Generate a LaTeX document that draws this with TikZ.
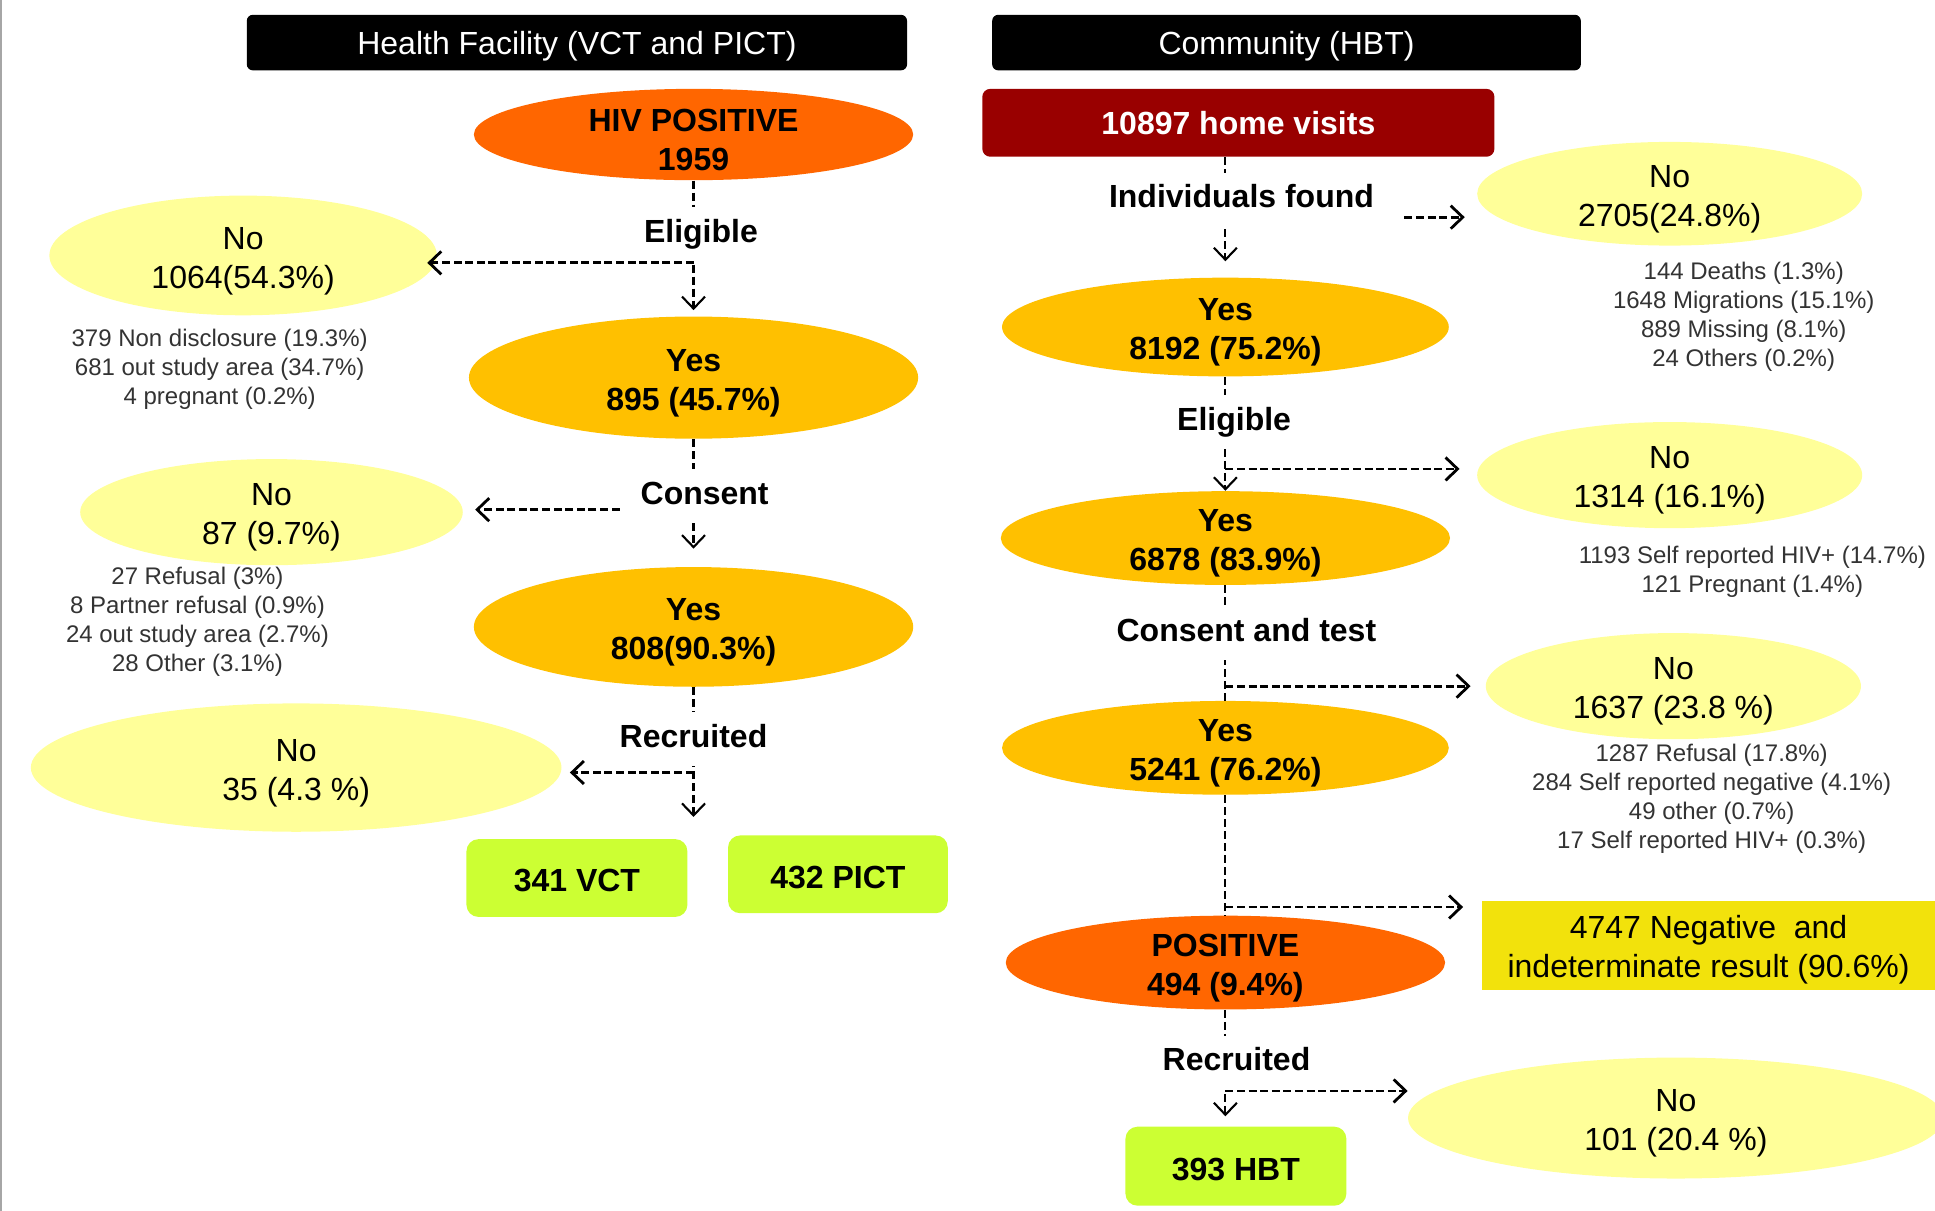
\documentclass[tikz,border=0pt]{standalone}
\usepackage{fontspec}
\setmainfont{Liberation Sans}
\usetikzlibrary{shapes.geometric,arrows.meta}
\definecolor{noyel}{HTML}{FFFF99}
\definecolor{yesor}{HTML}{FFC000}
\definecolor{posor}{HTML}{FF6600}
\definecolor{visred}{HTML}{990000}
\definecolor{recgreen}{HTML}{CCFF33}
\definecolor{negyel}{HTML}{F2E20C}
\newcommand{\mainsz}{\fontsize{16}{19.5}\selectfont}
\newcommand{\notesz}{\fontsize{12}{14.5}\selectfont}
\newcommand{\pxu}{0.61703pt}
\newcommand{\tstrut}{\rule{0pt}{16.5pt}}
\begin{document}
\begin{tikzpicture}[x=0.61703pt,y=-0.61703pt,
 lower/.style={execute at begin node={\rule{0pt}{#1}}},
 ell/.style={ellipse, inner xsep=0pt, inner ysep=-12pt, align=center, font=\mainsz},
 noell/.style={ell, fill=noyel},
 yesell/.style={ell, fill=yesor, font=\mainsz\bfseries},
 posell/.style={ell, fill=posor, font=\mainsz\bfseries},
 hdr/.style={fill=black, text=white, rounded corners=3pt, font=\mainsz, inner sep=0pt, lower=15.5pt},
 recbox/.style={fill=recgreen, rounded corners=6pt, font=\mainsz\bfseries, inner sep=0pt, lower=14pt},
 lbl/.style={fill=white, font=\mainsz\bfseries, inner xsep=2pt, inner ysep=6pt, text height=11.5pt, text depth=3.5pt},
 note/.style={align=center, font=\notesz, text=black!80, inner sep=0pt},
 vl/.style={dash pattern=on 4pt off 2pt, line width=1.05pt},
 hl/.style={dash pattern=on 4pt off 1.8pt, line width=1.4pt},
 tip/.style={-{Straight Barb[length=6pt,width=11.5pt]}},
]
\useasboundingbox (0,0) rectangle (1568,981);
\coordinate (ftop) at (0.8,0);
\coordinate (fbot) at (0.8,981);
\draw[gray!70, line width=0.8pt] (ftop) -- (fbot);

% headers
\node[hdr, minimum width=535*\pxu, minimum height=45*\pxu] (hf) at (467.5,34.5) {Health Facility (VCT and PICT)};
\node[hdr, minimum width=477*\pxu, minimum height=45*\pxu] (cm) at (1042.5,34.5) {Community (HBT)};

% left column
\node[posell, minimum width=356*\pxu, minimum height=74*\pxu] (hiv) at (562,109) {\tstrut HIV POSITIVE\\1959};
\node[noell, minimum width=314*\pxu, minimum height=97*\pxu] (no1) at (197,207) {\tstrut No\\1064(54.3\%)};
\node[yesell, minimum width=364*\pxu, minimum height=99*\pxu] (yes1) at (562,306) {\tstrut Yes\\895 (45.7\%)};
\node[noell, minimum width=310*\pxu, minimum height=86*\pxu] (no2) at (220,415) {\tstrut No\\87 (9.7\%)};
\node[yesell, minimum width=356*\pxu, minimum height=97*\pxu] (yes2) at (562,508) {\tstrut Yes\\808(90.3\%)};
\node[noell, minimum width=430*\pxu, minimum height=104*\pxu] (no3) at (240,622) {\tstrut No\\35 (4.3 \%)};
\node[recbox, minimum width=179*\pxu, minimum height=63*\pxu] (vct) at (467.5,711.5) {341 VCT};
\node[recbox, minimum width=178*\pxu, minimum height=63*\pxu] (pict) at (679,708.5) {432 PICT};

\node[note] (n1) at (178,299.5) {379 Non disclosure (19.3\%)\\681 out study area (34.7\%)\\4 pregnant (0.2\%)};
\node[note] (n2) at (160,504) {27 Refusal (3\%)\\8 Partner refusal (0.9\%)\\24 out study area (2.7\%)\\28 Other (3.1\%)};

% right column
\node[fill=visred, text=white, rounded corners=4pt, font=\mainsz\bfseries, minimum width=415*\pxu, minimum height=55*\pxu, inner sep=0pt] (visits) at (1003.5,99.5) {10897 home visits};
\node[noell, minimum width=312*\pxu, minimum height=84*\pxu] (noA) at (1353,157) {\tstrut No\\2705(24.8\%)};
\node[yesell, minimum width=362*\pxu, minimum height=80*\pxu] (yesA) at (993,265) {\tstrut Yes\\8192 (75.2\%)};
\node[noell, minimum width=312*\pxu, minimum height=86*\pxu] (noB) at (1353,385) {\tstrut No\\1314 (16.1\%)};
\node[yesell, minimum width=364*\pxu, minimum height=76*\pxu] (yesB) at (993,436) {\tstrut Yes\\6878 (83.9\%)};
\node[noell, minimum width=304*\pxu, minimum height=86*\pxu] (noC) at (1356,556) {\tstrut No\\1637 (23.8 \%)};
\node[yesell, minimum width=362*\pxu, minimum height=76*\pxu] (yesC) at (993,606) {\tstrut Yes\\5241 (76.2\%)};
\node[fill=negyel, font=\mainsz, align=center, minimum width=367*\pxu, minimum height=72*\pxu, inner sep=0pt] (neg) at (1384.5,766) {\tstrut 4747 Negative~ and\\indeterminate result (90.6\%)};
\node[posell, minimum width=356*\pxu, minimum height=76*\pxu] (pos) at (993,780) {\tstrut POSITIVE\\494 (9.4\%)};
\node[noell, minimum width=434*\pxu, minimum height=98*\pxu] (noD) at (1358,906) {\tstrut No\\101 (20.4 \%)};
\node[recbox, minimum width=179*\pxu, minimum height=64*\pxu] (hbt) at (1001.5,945) {393 HBT};

\node[note] (n3) at (1413,257) {144 Deaths (1.3\%)\\1648 Migrations (15.1\%)\\889 Missing (8.1\%)\\24 Others (0.2\%)};
\node[note] (n4) at (1420,463) {1193 Self reported HIV+ (14.7\%)\\121 Pregnant (1.4\%)};
\node[note] (n5) at (1387,647.5) {1287 Refusal (17.8\%)\\284 Self reported negative (4.1\%)\\49 other (0.7\%)\\17 Self reported HIV+ (0.3\%)};

% left connectors
\draw[vl, tip, shorten >=3pt] (hiv.south) -- (yes1.north);
\coordinate (j1) at (562,213);
\draw[hl, tip, shorten >=-5pt] (j1) -- (j1 -| no1.east);
\draw[vl, tip, shorten >=9pt] (yes1.south) -- (yes2.north);
\coordinate (j2) at (502,413);
\draw[hl, tip, shorten >=6pt] (j2) -- (j2 -| no2.east);
\coordinate (r1) at (562,662);
\draw[vl, tip] (yes2.south) -- (r1);
\coordinate (j3) at (562,626);
\draw[hl, tip, shorten >=4pt] (j3) -- (j3 -| no3.east);

% right connectors
\draw[vl, tip, shorten >=8pt] (visits.south -| yesA.north) -- (yesA.north);
\coordinate (j4) at (1138,176);
\draw[hl, tip, shorten >=6pt] (j4) -- (j4 -| noA.west);
\draw[vl, tip] (yesA.south) -- (yesB.north);
\coordinate (j5) at (993,380);
\draw[hl, tip, shorten >=8.6pt] (j5) -- (j5 -| noB.west);
\draw[vl] (yesB.south) -- (yesC.north);
\coordinate (j6) at (993,556);
\draw[hl, tip, shorten >=7.4pt] (j6) -- (j6 -| noC.west);
\draw[vl] (yesC.south) -- (pos.north);
\coordinate (j7) at (993,735);
\draw[hl, tip, shorten >=9.3pt] (j7) -- (j7 -| neg.west);
\draw[vl, tip, shorten >=5pt] (pos.south) -- (pos.south |- hbt.north);
\coordinate (j8) at (993,884);
\draw[hl, tip] (j8) -- (j8 -| noD.west);

% step labels (drawn over the lines)
\node[lbl] (el1) at (568,190) {Eligible};
\node[lbl] (co1) at (571,402) {Consent};
\node[lbl] (re1) at (562,599) {Recruited};
\node[lbl] (found) at (1006,162) {Individuals found};
\node[lbl] (el2) at (1000,342) {Eligible};
\node[lbl] (ct2) at (1010,513) {Consent and test};
\node[lbl] (re2) at (1002,861) {Recruited};
\end{tikzpicture}
\end{document}
